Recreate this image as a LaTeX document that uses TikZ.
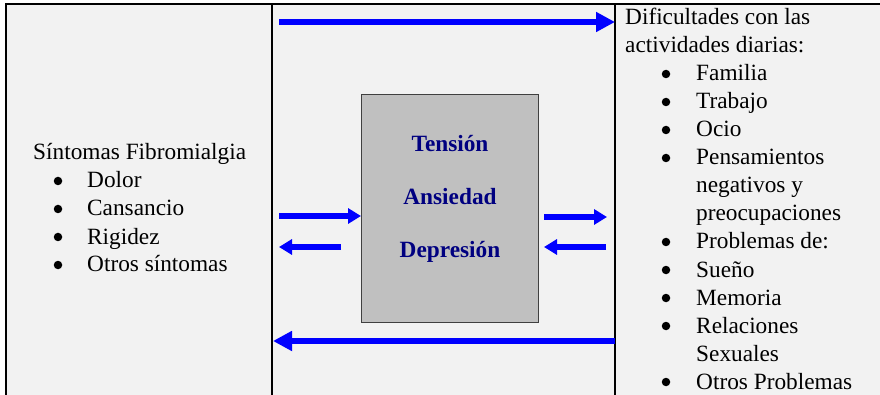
\documentclass[tikz,border=0pt]{standalone}
\usepackage{fontspec}
\setmainfont{Liberation Serif}
\usetikzlibrary{arrows.meta}
\definecolor{bg}{HTML}{F2F2F2}
\definecolor{boxgray}{HTML}{C0C0C0}
\definecolor{boxline}{HTML}{404040}
\definecolor{navy}{HTML}{000080}
\definecolor{arrowblue}{HTML}{0000FF}
\begin{document}
\begin{tikzpicture}[x=1pt,y=-1pt,
  txt/.style={anchor=base west, inner sep=0pt, font=\fontsize{23.3}{28}\selectfont},
  mid/.style={anchor=base, inner sep=0pt, font=\fontsize{23.3}{28}\selectfont\bfseries, text=navy},
  dot/.style={circle, fill=black, inner sep=0pt, minimum size=8.5pt},
  bigarrow/.style={draw=arrowblue, line width=6.5pt, -{Triangle[length=19pt,width=19pt]}},
  smallarrow/.style={draw=arrowblue, line width=6pt, -{Triangle[length=13pt,width=15pt]}},
  rule/.style={line width=1.8pt}]
\useasboundingbox (0,0) rectangle (880,395);
\fill[bg] (6,4) rectangle (880,395);
\draw[rule] (6,395) -- (6,4) -- (880,4);
\draw[rule] (272,4) -- (272,395);
\draw[rule] (615,4) -- (615,395);
% central box
\node (box) [draw=boxline, line width=1pt, fill=boxgray, anchor=north west, inner sep=0pt,
  minimum width=177pt, minimum height=228pt] at (361,94) {};
\node (t1) [mid] at (450,152) {Tensión};
\node (t2) [mid] at (450,205) {Ansiedad};
\node (t3) [mid] at (450,258) {Depresión};
% left column
\node (lh) [txt] at (33,160) {Síntomas Fibromialgia};
\node (lb1) [dot] at (58,181) {}; \node (l1) [txt] at (87,188) {Dolor};
\node (lb2) [dot] at (58,209) {}; \node (l2) [txt] at (87,216) {Cansancio};
\node (lb3) [dot] at (58,237) {}; \node (l3) [txt] at (87,244) {Rigidez};
\node (lb4) [dot] at (58,265) {}; \node (l4) [txt] at (87,272) {Otros síntomas};
% right column
\node (rh1) [txt] at (625,25) {Dificultades con las};
\node (rh2) [txt] at (625,53) {actividades diarias:};
\node (rb1) [dot] at (666,74) {}; \node (r1) [txt] at (696,81) {Familia};
\node (rb2) [dot] at (666,102) {}; \node (r2) [txt] at (696,109) {Trabajo};
\node (rb3) [dot] at (666,130) {}; \node (r3) [txt] at (696,137) {Ocio};
\node (rb4) [dot] at (666,158) {}; \node (r4) [txt] at (696,165) {Pensamientos};
\node (r4b) [txt] at (696,193) {negativos y};
\node (r4c) [txt] at (696,221) {preocupaciones};
\node (rb5) [dot] at (666,242) {}; \node (r5) [txt] at (696,249) {Problemas de:};
\node (rb6) [dot] at (666,270) {}; \node (r6) [txt] at (696,277) {Sueño};
\node (rb7) [dot] at (666,298) {}; \node (r7) [txt] at (696,305) {Memoria};
\node (rb8) [dot] at (666,326) {}; \node (r8) [txt] at (696,333) {Relaciones};
\node (r8b) [txt] at (696,361) {Sexuales};
\node (rb9) [dot] at (666,382) {}; \node (r9) [txt] at (696,389) {Otros Problemas};
% arrow end points
\coordinate (topA) at (279,22);  \coordinate (topB) at (615,22);
\coordinate (botA) at (615,341); \coordinate (botB) at (273,341);
\coordinate (la1) at (279,216);  \coordinate (lb1e) at (361,216);
\coordinate (la2) at (341,247);  \coordinate (lb2e) at (279,247);
\coordinate (ra1) at (544,217);  \coordinate (rb1e) at (607,217);
\coordinate (ra2) at (606,247);  \coordinate (rb2e) at (544,247);
\draw[bigarrow] (topA) -- (topB);
\draw[bigarrow] (botA) -- (botB);
\draw[smallarrow] (la1) -- (lb1e);
\draw[smallarrow] (la2) -- (lb2e);
\draw[smallarrow] (ra1) -- (rb1e);
\draw[smallarrow] (ra2) -- (rb2e);
\end{tikzpicture}
\end{document}
